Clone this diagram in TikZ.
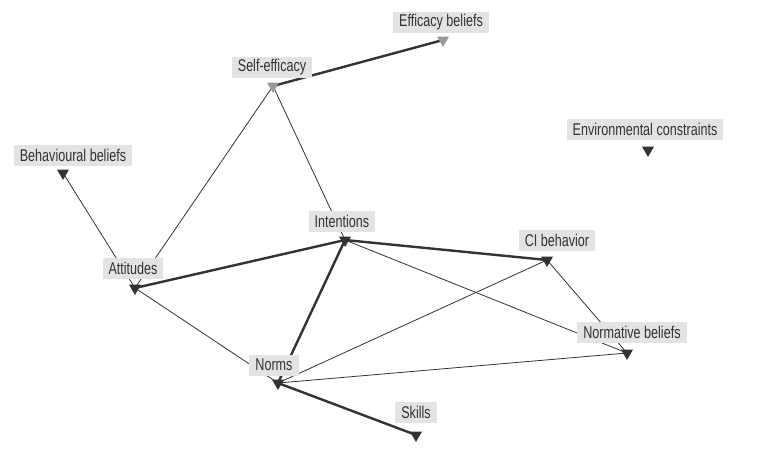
\documentclass[tikz,border=0pt]{standalone}
\usepackage{fontspec}
\setmainfont{Liberation Sans}[FakeStretch=0.74]
\usetikzlibrary{shapes.geometric,positioning}

\definecolor{edgegray}{HTML}{333333}
\definecolor{markgray}{HTML}{999999}
\definecolor{boxgray}{HTML}{E3E3E3}

\tikzset{
    lbl/.style={fill=boxgray, text=edgegray, inner xsep=6pt, inner ysep=0pt,
        minimum height=21pt, font=\fontsize{17}{18}\selectfont},
    tri/.style={regular polygon, regular polygon sides=3, shape border rotate=180,
        minimum size=14pt, inner sep=0pt, fill=edgegray},
    trilight/.style={tri, fill=markgray},
    thinlink/.style={draw=edgegray, line width=0.8pt},
    thicklink/.style={draw=edgegray, line width=2.4pt}
}

\begin{document}
\begin{tikzpicture}[x=1pt, y=-1pt]
    \useasboundingbox (0,0) rectangle (758,466);

    % Node positions
    \coordinate (effb) at (443,40);
    \coordinate (self) at (273,86);
    \coordinate (behb) at (63,173);
    \coordinate (envc) at (648,150);
    \coordinate (intent) at (345,240);
    \coordinate (cib) at (547,260);
    \coordinate (att) at (135,288);
    \coordinate (normb) at (627,353);
    \coordinate (norms) at (278,383);
    \coordinate (skills) at (416,435);

    % Thin links
    \draw[thinlink] (self) -- (att);
    \draw[thinlink] (self) -- (intent);
    \draw[thinlink] (behb) -- (att);
    \draw[thinlink] (att) -- (norms);
    \draw[thinlink] (intent) -- (normb);
    \draw[thinlink] (cib) -- (normb);
    \draw[thinlink] (cib) -- (norms);
    \draw[thinlink] (norms) -- (normb);

    % Thick links
    \draw[thicklink] (self) -- (effb);
    \draw[thicklink] (att) -- (intent);
    \draw[thicklink] (intent) -- (cib);
    \draw[thicklink] (norms) -- (intent);
    \draw[thicklink] (norms) -- (skills);

    % Markers
    \foreach \n in {behb,envc,intent,cib,att,normb,norms,skills} {
        \node[tri] (\n-m) at (\n) {};
    }
    \node[trilight] (effb-m) at (effb) {};
    \node[trilight] (self-m) at (self) {};

    % Labels
    \node[lbl] (effb-l) at (441,22) {Efficacy beliefs};
    \node[lbl] (self-l) at (272,67) {Self-efficacy};
    \node[lbl] (behb-l) at (73,155) {Behavioural beliefs};
    \node[lbl] (envc-l) at (645,129) {Environmental constraints};
    \node[lbl] (intent-l) at (342,221) {Intentions};
    \node[lbl] (cib-l) at (557,240) {CI behavior};
    \node[lbl] (att-l) at (133,268) {Attitudes};
    \node[lbl] (normb-l) at (632,332) {Normative beliefs};
    \node[lbl] (norms-l) at (274,365) {Norms};
    \node[lbl] (skills-l) at (416,412) {Skills};
\end{tikzpicture}
\end{document}
